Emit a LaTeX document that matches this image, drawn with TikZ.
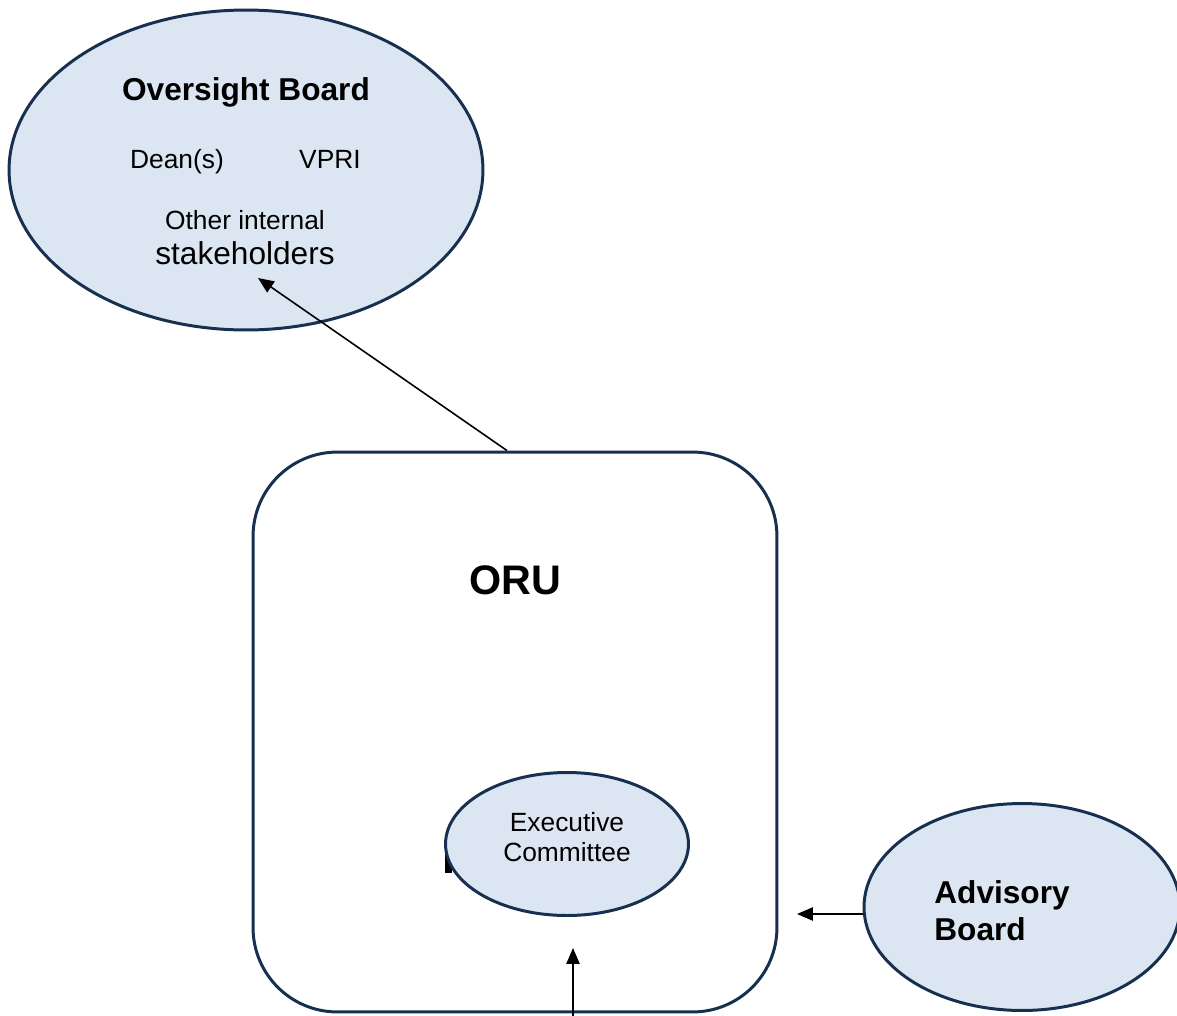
\documentclass[tikz,border=0pt]{standalone}
\usepackage{fontspec}
\setmainfont{Liberation Sans}
\usepackage{tikz}
\usetikzlibrary{positioning,shapes.geometric,arrows.meta,calc}
\definecolor{navy}  {HTML}{17304F}
\definecolor{paleblue}{HTML}{DCE6F2}
\tikzset{
  >={Triangle[length=9pt,width=7.5pt]},
  % --- nodes
  board/.style = {ellipse, draw=navy, fill=paleblue, line width=1.7pt, inner sep=0pt},
  unit/.style  = {rectangle, rounded corners=48pt, draw=navy, fill=white, line width=1.7pt},
  txt/.style   = {inner sep=0pt, align=center, anchor=base},
  % --- edges
  e/.style     = {->, line width=0.9pt, draw=black},
}
\begin{document}
\begin{tikzpicture}[x=0.02cm,y=-0.02cm]
  \useasboundingbox (0,0) rectangle (1177,1015);
  % oversight board
  \node[board, minimum width=9.48cm, minimum height=6.4cm] (ob) at (246,170) {};
  \node[txt, font=\fontsize{18}{22}\selectfont\bfseries] (obt) at (246,100) {Oversight Board};
  \node[txt, font=\fontsize{15}{18}\selectfont] (dean) at (177,168) {Dean(s)};
  \node[txt, font=\fontsize{15}{18}\selectfont] (vpri) at (330,168) {VPRI};
  \node[txt, font=\fontsize{15}{18}\selectfont] (other) at (245,229) {Other internal};
  \node[txt, font=\fontsize{18}{22}\selectfont] (stake) at (245,264) {stakeholders};
  % ORU
  \node[unit, minimum width=10.48cm, minimum height=11.2cm] (oru) at (515,732) {};
  \node[txt, font=\fontsize{23.5}{28}\selectfont\bfseries] (orut) at (515,594) {ORU};
  \fill[black] (445,854) rectangle (452,873);
  \node[board, minimum width=4.86cm, minimum height=2.86cm] (ec) at (567,844) {};
  \node[txt, anchor=center, font=\fontsize{15}{17}\selectfont] (ect) at (567,837) {Executive\\Committee};
  % advisory board
  \node[board, minimum width=6.32cm, minimum height=4.14cm] (ab) at (1022,907) {};
  \node[txt, align=left, anchor=west, font=\fontsize{18}{21}\selectfont\bfseries] (abt) at (934,911) {Advisory\\Board};
  % connectors
  \coordinate (stk) at (258,278);
  \coordinate (orutop) at ($(oru.north)+(-8,0)$);
  \coordinate (abin) at (797,914);
  \coordinate (about) at (ab.west |- abin);
  \coordinate (ecin) at (573,948);
  \coordinate (bot) at (573,1016);
  \draw[e] (orutop) -- (stk);
  \draw[e] (about) -- (abin);
  \draw[e] (bot) -- (ecin);
\end{tikzpicture}
\end{document}
